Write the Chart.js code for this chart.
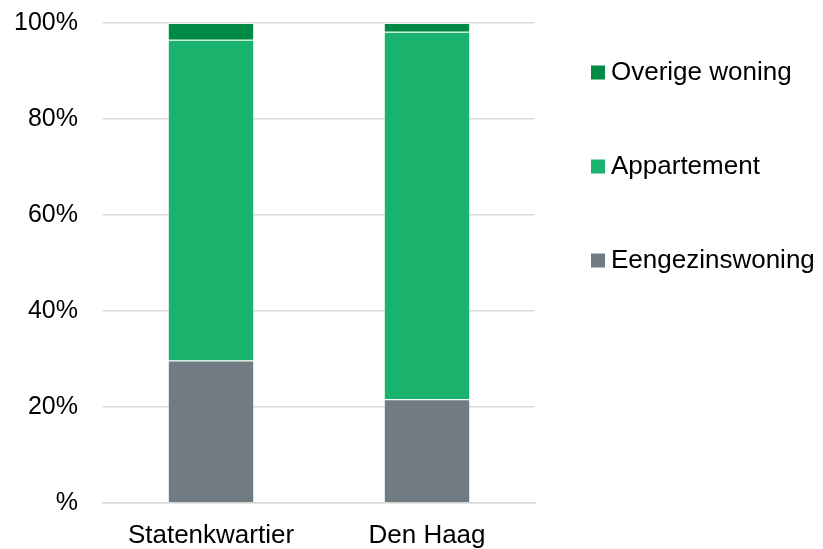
<!DOCTYPE html>
<html>
<head>
<meta charset="utf-8">
<script src="https://cdn.jsdelivr.net/npm/chart.js@4/dist/chart.umd.min.js"></script>
<style>
html,body{margin:0;padding:0;background:#fff;}
#wrap{width:823px;height:549px;}
</style>
</head>
<body>
<div id="wrap"><canvas id="c" width="823" height="549"></canvas></div>
<script>
const categories = ['Statenkwartier', 'Den Haag'];
const eengezinswoning = [29.7, 21.6];
const appartement = [66.8, 76.6];
const overigeWoning = [3.5, 1.8];
const yTicks = [0, 20, 40, 60, 80, 100];
const seriesNames = ['Eengezinswoning', 'Appartement', 'Overige woning'];
const seriesColors = ['#707B82', '#19B36D', '#008A45'];

const FONT = '"Liberation Sans", Arial, sans-serif';

const legendPlugin = {
  id: 'customLegend',
  afterDraw(chart) {
    const ctx = chart.ctx;
    const ds = chart.data.datasets;
    const ys = [72, 166, 260];
    ctx.save();
    ctx.font = '26px ' + FONT;
    ctx.textBaseline = 'middle';
    ctx.textAlign = 'left';
    for (let i = 0; i < ds.length; i++) {
      const d = ds[ds.length - 1 - i];
      const y = ys[i];
      ctx.fillStyle = d.backgroundColor;
      ctx.fillRect(591, y - 6.5, 14, 14);
      ctx.fillStyle = '#000';
      ctx.fillText(d.label, 611, y + 1);
    }
    ctx.restore();
  }
};

new Chart(document.getElementById('c'), {
  type: 'bar',
  data: {
    labels: categories,
    datasets: [
      {label: seriesNames[0], data: eengezinswoning, backgroundColor: seriesColors[0]},
      {label: seriesNames[1], data: appartement, backgroundColor: seriesColors[1]},
      {label: seriesNames[2], data: overigeWoning, backgroundColor: seriesColors[2]}
    ].map(d => Object.assign(d, {borderColor: 'rgba(255,255,255,0.3)', borderWidth: 1, categoryPercentage: 1, barPercentage: 0.4}))
  },
  options: {
    responsive: false,
    animation: false,
    layout: {padding: {left: 13, right: 288, top: 23, bottom: 0}},
    plugins: {legend: {display: false}, tooltip: {enabled: false}},
    scales: {
      x: {
        stacked: true,
        afterFit(scale) { scale.height = 46; },
        grid: {display: false, drawTicks: false},
        border: {color: '#d9d9d9', width: 1.5},
        ticks: {color: '#000', font: {family: FONT, size: 26}, padding: 17}
      },
      y: {
        stacked: true,
        min: 0, max: 100,
        afterFit(scale) { scale.width = 90; scale.paddingTop = 15; scale.paddingBottom = 15; },
        afterBuildTicks(axis) { axis.ticks = yTicks.map(v => ({value: v})); },
        grid: {color: '#d9d9d9', lineWidth: 1.5, drawTicks: false},
        border: {display: false},
        ticks: {
          color: '#000', font: {family: FONT, size: 25}, padding: 25,
          callback: v => v === 0 ? '%' : v + '%'
        }
      }
    }
  },
  plugins: [legendPlugin]
});
</script>
</body>
</html>
